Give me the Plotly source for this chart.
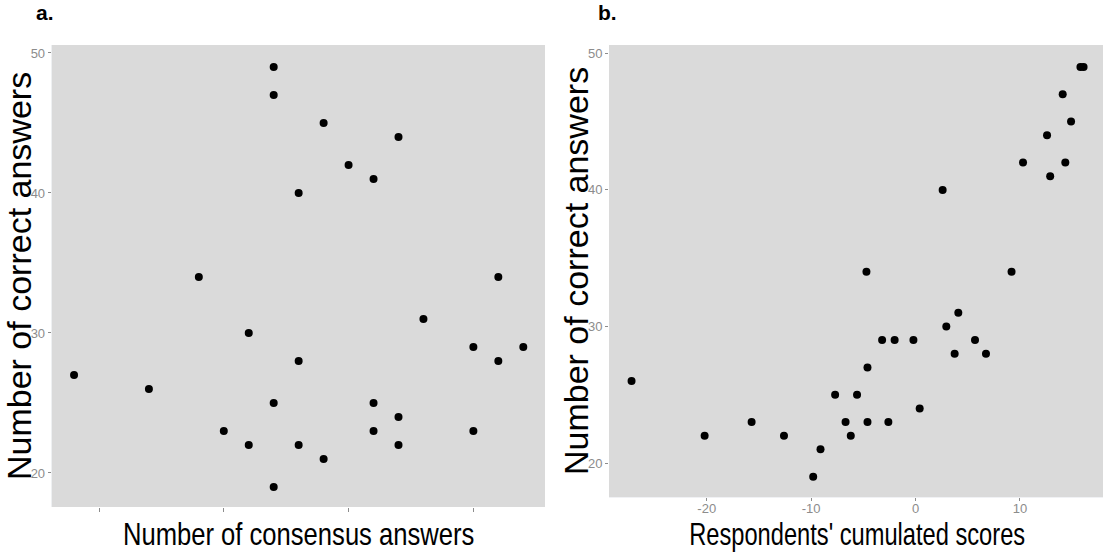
import plotly.graph_objects as go

# Panel a data
consensus_answers = [9, 12, 14, 15, 16, 16, 17, 17, 17, 17, 18, 18, 18, 19, 19, 20,
                     21, 21, 21, 22, 22, 22, 23, 25, 25, 26, 26, 27]
correct_a = [27, 26, 34, 23, 30, 22, 49, 47, 25, 19, 40, 28, 22, 45, 21, 42,
             41, 25, 23, 44, 24, 22, 31, 29, 23, 34, 28, 29]

# Panel b data
cumulated_scores = [15.8, 16.1, 14.1, 14.9, 12.6, 10.3, 14.35, 12.9, 2.6, -4.7, 9.2,
                    4.1, 2.95, -3.2, -2.0, -0.2, 5.7, 3.75, 6.75, -4.6, -27.2, -7.7,
                    -5.6, 0.4, -15.7, -6.7, -4.6, -2.6, -20.2, -12.6, -6.2, -9.1, -9.8]
correct_b = [49, 49, 47, 45, 44, 42, 42, 41, 40, 34, 34, 31, 30, 29, 29, 29, 29, 28,
             28, 27, 26, 25, 25, 24, 23, 23, 23, 23, 22, 22, 22, 21, 19]

y_ticks = [20, 30, 40, 50]
xa_ticks = [10, 15, 20, 25]
xb_ticks = [-20, -10, 0, 10]
xb_ticktext = ["-20", "-10", "0", "10"]

W, H = 1103, 556
SANS = "Liberation Sans, Arial, sans-serif"
TICKC = "#8c8c8c"
PANEL = "#dadada"

fig = go.Figure()
fig.add_trace(go.Scatter(x=consensus_answers, y=correct_a, mode="markers",
                         marker=dict(color="black", size=8), xaxis="x", yaxis="y",
                         showlegend=False, hoverinfo="skip"))
fig.add_trace(go.Scatter(x=cumulated_scores, y=correct_b, mode="markers",
                         marker=dict(color="black", size=8), xaxis="x2", yaxis="y2",
                         showlegend=False, hoverinfo="skip"))

def px_x(p):
    return p / W

def px_y(p):
    return (H - p) / H

axis_common = dict(showgrid=False, zeroline=False, showline=False, ticks="outside",
                   tickwidth=1, tickcolor=TICKC,
                   tickfont=dict(family=SANS, size=13, color=TICKC))

fig.update_layout(
    width=W, height=H,
    margin=dict(l=0, r=0, t=0, b=0),
    paper_bgcolor="white",
    xaxis=dict(domain=[px_x(51.7), px_x(545)], range=[8.105, 27.87], ticklen=4,
               tickvals=xa_ticks, showticklabels=False, anchor="y", **axis_common),
    yaxis=dict(domain=[px_y(507), px_y(45)], range=[17.57, 50.57], ticklen=3,
               tickvals=y_ticks, anchor="x", ticklabelstandoff=0, **axis_common),
    xaxis2=dict(domain=[px_x(609), 1.0], range=[-29.36, 17.96], ticklen=3,
                tickvals=xb_ticks, ticktext=xb_ticktext, anchor="y2",
                ticklabelstandoff=-4, **axis_common),
    yaxis2=dict(domain=[px_y(497.3), px_y(45)], range=[17.49, 50.61], ticklen=3,
                tickvals=y_ticks, anchor="x2", ticklabelstandoff=0, **axis_common),
    shapes=[
        dict(type="rect", xref="x domain", yref="y domain", x0=0, x1=1, y0=0, y1=1,
             fillcolor=PANEL, line=dict(width=0), layer="below"),
        dict(type="rect", xref="x2 domain", yref="y2 domain", x0=0, x1=1, y0=0, y1=1,
             fillcolor=PANEL, line=dict(width=0), layer="below"),
    ],
    annotations=[
        dict(text="<b>a.</b>", x=px_x(34), y=px_y(-1), xref="paper", yref="paper",
             xanchor="left", yanchor="top", showarrow=False,
             font=dict(family=SANS, size=21, color="black")),
        dict(text="<b>b.</b>", x=px_x(596), y=px_y(-1), xref="paper", yref="paper",
             xanchor="left", yanchor="top", showarrow=False,
             font=dict(family=SANS, size=21, color="black")),
        dict(text="Number of correct answers", x=px_x(19), y=px_y(276),
             xref="paper", yref="paper", xanchor="center", yanchor="middle",
             textangle=-90, showarrow=False,
             font=dict(family=SANS, size=34, color="black")),
        dict(text="Number of correct answers", x=px_x(576), y=px_y(271),
             xref="paper", yref="paper", xanchor="center", yanchor="middle",
             textangle=-90, showarrow=False,
             font=dict(family=SANS, size=34, color="black")),
        dict(text="Number of consensus answers", x=px_x(298.5), y=px_y(534),
             xref="paper", yref="paper", xanchor="center", yanchor="middle",
             showarrow=False, font=dict(family=SANS, size=32, color="black")),
        dict(text="Respondents' cumulated scores", x=px_x(857), y=px_y(534),
             xref="paper", yref="paper", xanchor="center", yanchor="middle",
             showarrow=False, font=dict(family=SANS, size=32, color="black")),
    ],
)

# Narrow (condensed) rendering of the x titles, as in the reference
post = """
document.body.style.margin = '0';
document.body.style.padding = '0';
function squeeze(el, s) {
  var x = parseFloat(el.getAttribute('x') || '0');
  var t = el.getAttribute('transform') || '';
  el.setAttribute('transform', t + ' translate(' + x + ',0) scale(' + s + ',1) translate(' + (-x) + ',0)');
}
document.querySelectorAll('text.annotation-text').forEach(function (e) {
  var s = e.textContent;
  if (s.indexOf('consensus') >= 0) { squeeze(e, 0.80); }
  else if (s.indexOf('Respondents') >= 0) { squeeze(e, 0.74); }
});
"""

fig.write_html("out.html", config={"displayModeBar": False}, post_script=post)
